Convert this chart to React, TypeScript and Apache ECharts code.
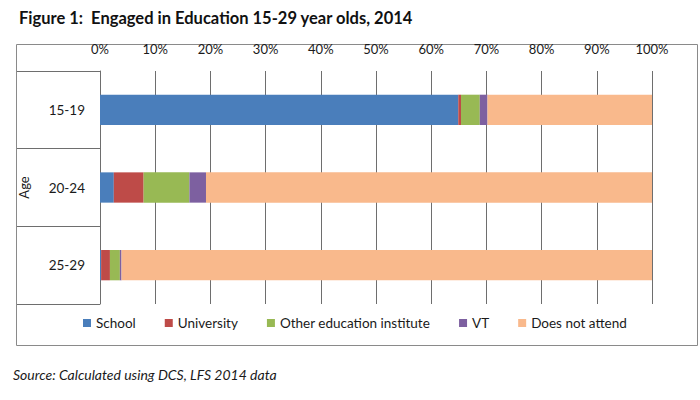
import React, { useEffect, useRef } from "react";
import * as echarts from "echarts";

const categories = ["15-19", "20-24", "25-29"];
const school = [64.9, 2.5, 0.2];
const university = [0.5, 5.4, 1.6];
const otherInstitute = [3.4, 8.3, 1.8];
const vt = [1.4, 3.0, 0.3];
const doesNotAttend = [29.8, 80.8, 96.1];
const seriesNames = ["School", "University", "Other education institute", "VT", "Does not attend"];
const seriesColors = ["#4A7EBB", "#BE4B48", "#98B954", "#7D60A0", "#F9B98C"];
const xTicks = [0, 10, 20, 30, 40, 50, 60, 70, 80, 90, 100];

const FONT = "Lato, 'Open Sans', sans-serif";

export default function App() {
  const ref = useRef<HTMLDivElement>(null);
  useEffect(() => {
    if (!ref.current) return;
    const chart = echarts.init(ref.current, undefined, { renderer: "svg" });
    const values = [school, university, otherInstitute, vt, doesNotAttend];
    chart.setOption({
      animation: false,
      backgroundColor: "#ffffff",
      textStyle: { fontFamily: FONT },
      title: {
        text: "Figure 1:  Engaged in Education 15-29 year olds, 2014",
        left: 14,
        top: 4,
        textStyle: { fontFamily: FONT, fontSize: 16.5, fontWeight: "bold", color: "#111" },
      },
      grid: { left: 100, right: 48, top: 71, bottom: 96 },
      legend: {
        data: seriesNames,
        bottom: 65,
        left: 78,
        itemWidth: 8,
        itemHeight: 8,
        itemGap: 29,
        icon: "rect",
        textStyle: { fontFamily: FONT, fontSize: 13.5, color: "#1a1a1a" },
      },
      xAxis: {
        type: "value",
        position: "top",
        min: xTicks[0],
        max: xTicks[xTicks.length - 1],
        interval: 10,
        axisLine: { show: false },
        axisTick: { show: false },
        axisLabel: {
          formatter: "{value}%",
          margin: 16,
          fontFamily: FONT,
          fontSize: 13,
          color: "#1a1a1a",
        },
        splitLine: { show: true, lineStyle: { color: "#6e6e6e", width: 1 } },
      },
      yAxis: {
        type: "category",
        data: categories,
        inverse: true,
        name: "Age",
        nameLocation: "middle",
        nameRotate: 90,
        nameGap: 70,
        nameTextStyle: { fontFamily: FONT, fontSize: 13, color: "#1a1a1a" },
        axisLine: { show: true, lineStyle: { color: "#6e6e6e", width: 1 } },
        axisTick: { show: true, length: 83, lineStyle: { color: "#6e6e6e", width: 1 } },
        axisLabel: { margin: 15, fontFamily: FONT, fontSize: 13.5, color: "#1a1a1a" },
      },
      series: seriesNames.map((name, i) => ({
        name,
        type: "bar",
        stack: "total",
        barWidth: "39%",
        data: values[i],
        itemStyle: { color: seriesColors[i] },
      })),
      graphic: [
        {
          type: "rect",
          left: 14,
          top: 42,
          shape: { width: 681, height: 301 },
          style: { fill: "none", stroke: "#8a8a8a", lineWidth: 1 },
          z: -1,
        },
        {
          type: "text",
          left: 13,
          top: 367,
          style: {
            text: "Source: Calculated using DCS, LFS 2014 data",
            fontFamily: FONT,
            fontSize: 14,
            fontStyle: "italic",
            fill: "#1a1a1a",
          },
        },
      ],
    });
    return () => chart.dispose();
  }, []);
  return <div ref={ref} style={{ width: 700, height: 400, position: "absolute", left: 0, top: 0 }} />;
}
